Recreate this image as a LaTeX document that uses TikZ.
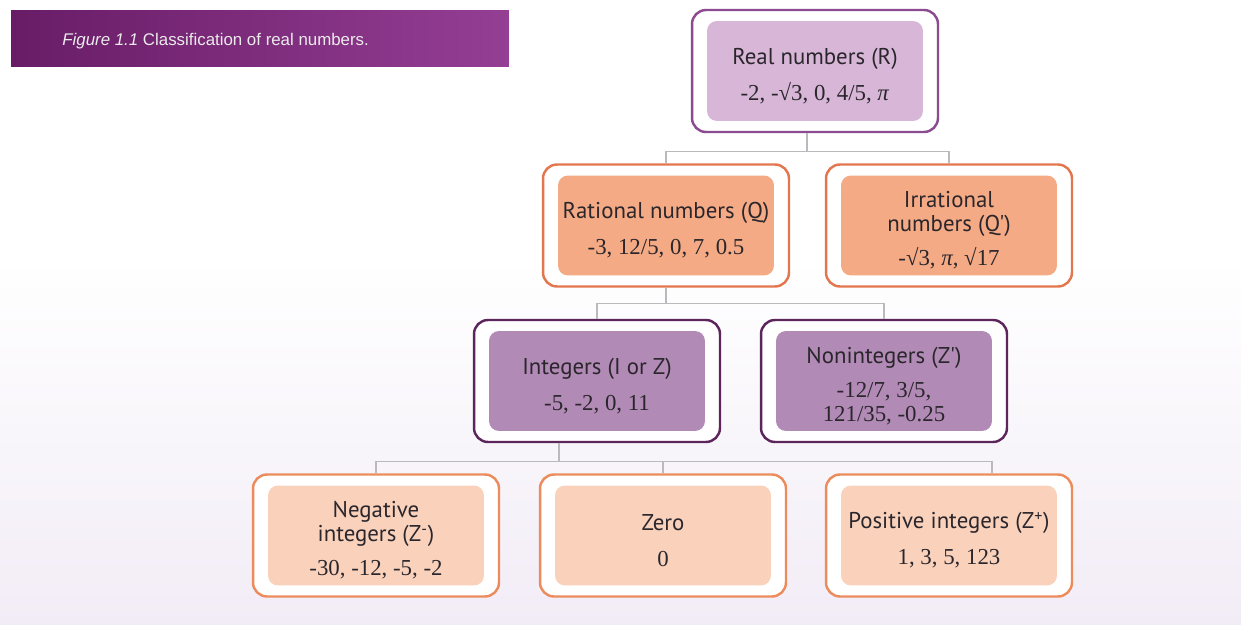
\documentclass[tikz,border=0pt]{standalone}
\usepackage{fontspec}
\setmainfont{Liberation Serif}
\newfontfamily\labfont{PT Sans}
\newfontfamily\capfont{Liberation Sans}
\usetikzlibrary{calc}
\definecolor{txt}{RGB}{42,38,44}
\definecolor{conncol}{RGB}{185,185,190}
\definecolor{bgb}{RGB}{242,236,246}
\definecolor{bandl}{RGB}{104,28,102}
\definecolor{bandr}{RGB}{148,62,148}
\definecolor{realb}{RGB}{140,75,145}
\definecolor{realf}{RGB}{215,182,215}
\definecolor{ratb}{RGB}{228,118,78}
\definecolor{ratf}{RGB}{244,170,132}
\definecolor{intb}{RGB}{92,38,92}
\definecolor{intf}{RGB}{178,138,182}
\definecolor{leafb}{RGB}{236,140,92}
\definecolor{leaff}{RGB}{250,210,188}
\newcommand{\lab}{\labfont\fontsize{13}{13.5}\selectfont}
\newcommand{\nums}{\rmfamily\fontsize{13}{13.5}\selectfont}
\newcommand{\pii}{\textit{π}}
\tikzset{inner/.style={path picture={\fill[#1,rounded corners=0.2cm] ([shift={(0.3cm,-0.22cm)}]path picture bounding box.north west) rectangle ([shift={(-0.3cm,0.22cm)}]path picture bounding box.south east);}}}
\tikzstyle{box}=[draw,line width=1.4pt,fill=white,rounded corners=0.28cm,minimum width=4.92cm,minimum height=2.44cm,inner sep=0pt,align=center,text=txt,font=\lab]
\tikzstyle{realbox}=[box,draw=realb,inner=realf]
\tikzstyle{ratbox}=[box,draw=ratb,inner=ratf]
\tikzstyle{intbox}=[box,draw=intb,inner=intf]
\tikzstyle{leafbox}=[box,draw=leafb,inner=leaff]
\tikzstyle{conn}=[draw=conncol,line width=0.8pt]
\tikzstyle{banner}=[rectangle,left color=bandl,right color=bandr,minimum width=9.96cm,minimum height=1.14cm,inner sep=0pt]

\begin{document}
\begin{tikzpicture}[x=0.02cm,y=-0.02cm]
	\useasboundingbox (0,0) rectangle (1241,625);
	\fill[white] (0,0) rectangle (1241,625);
	\shade[top color=white,bottom color=bgb] (0,260) rectangle (1241,625);
	% caption
	\node[banner] (cap) at (260,38.5) {};
	\node[anchor=west,inner sep=0pt,text=white!92!black,font=\capfont\fontsize{9.6}{11}\selectfont] (captxt) at (62,41) {\textit{Figure 1.1} Classification of real numbers.};
	% boxes
	\node[realbox] (real) at (815,71) {\rule{0pt}{15pt}Real numbers (R)\\[7pt]\nums -2, -√3, 0, 4/5, \pii};
	\node[ratbox] (rat) at (666,225.5) {\rule{0pt}{15pt}Rational numbers (Q)\\[7pt]\nums -3, 12/5, 0, 7, 0.5};
	\node[ratbox] (irr) at (949,225.5) {\rule{0pt}{15pt}Irrational\\numbers (Q')\\[6pt]\nums -√3, \pii, √17};
	\node[intbox] (int) at (597,381) {\rule{0pt}{15pt}Integers (I or Z)\\[7pt]\nums -5, -2, 0, 11};
	\node[intbox] (nonint) at (884,381) {\rule{0pt}{15pt}Nonintegers (Z')\\[6pt]\nums -12/7, 3/5,\\\nums 121/35, -0.25};
	\node[leafbox] (neg) at (376,535.5) {\rule{0pt}{15pt}Negative\\integers (Z\textsuperscript{-})\\[6pt]\nums -30, -12, -5, -2};
	\node[leafbox] (zero) at (663,535.5) {\rule{0pt}{15pt}Zero\\[7pt]\nums 0};
	\node[leafbox] (pos) at (949,535.5) {\rule{0pt}{15pt}Positive integers (Z\textsuperscript{+})\\[7pt]\nums 1, 3, 5, 123};
	% connectors
	\draw[conn] ([xshift=-0.16cm]real.south) -- ++(0,18) -| (rat.north);
	\draw[conn] ([xshift=-0.16cm]real.south) -- ++(0,18) -| (irr.north);
	\draw[conn] (rat.south) -- ++(0,16) -| (int.north);
	\draw[conn] (rat.south) -- ++(0,16) -| (nonint.north);
	\draw[conn] ([xshift=-0.76cm]int.south) -- ++(0,18) -| (neg.north);
	\draw[conn] ([xshift=-0.76cm]int.south) -- ++(0,18) -| (zero.north);
	\draw[conn] ([xshift=-0.76cm]int.south) -- ++(0,18) -| ([xshift=0.86cm]pos.north);
\end{tikzpicture}
\end{document}
